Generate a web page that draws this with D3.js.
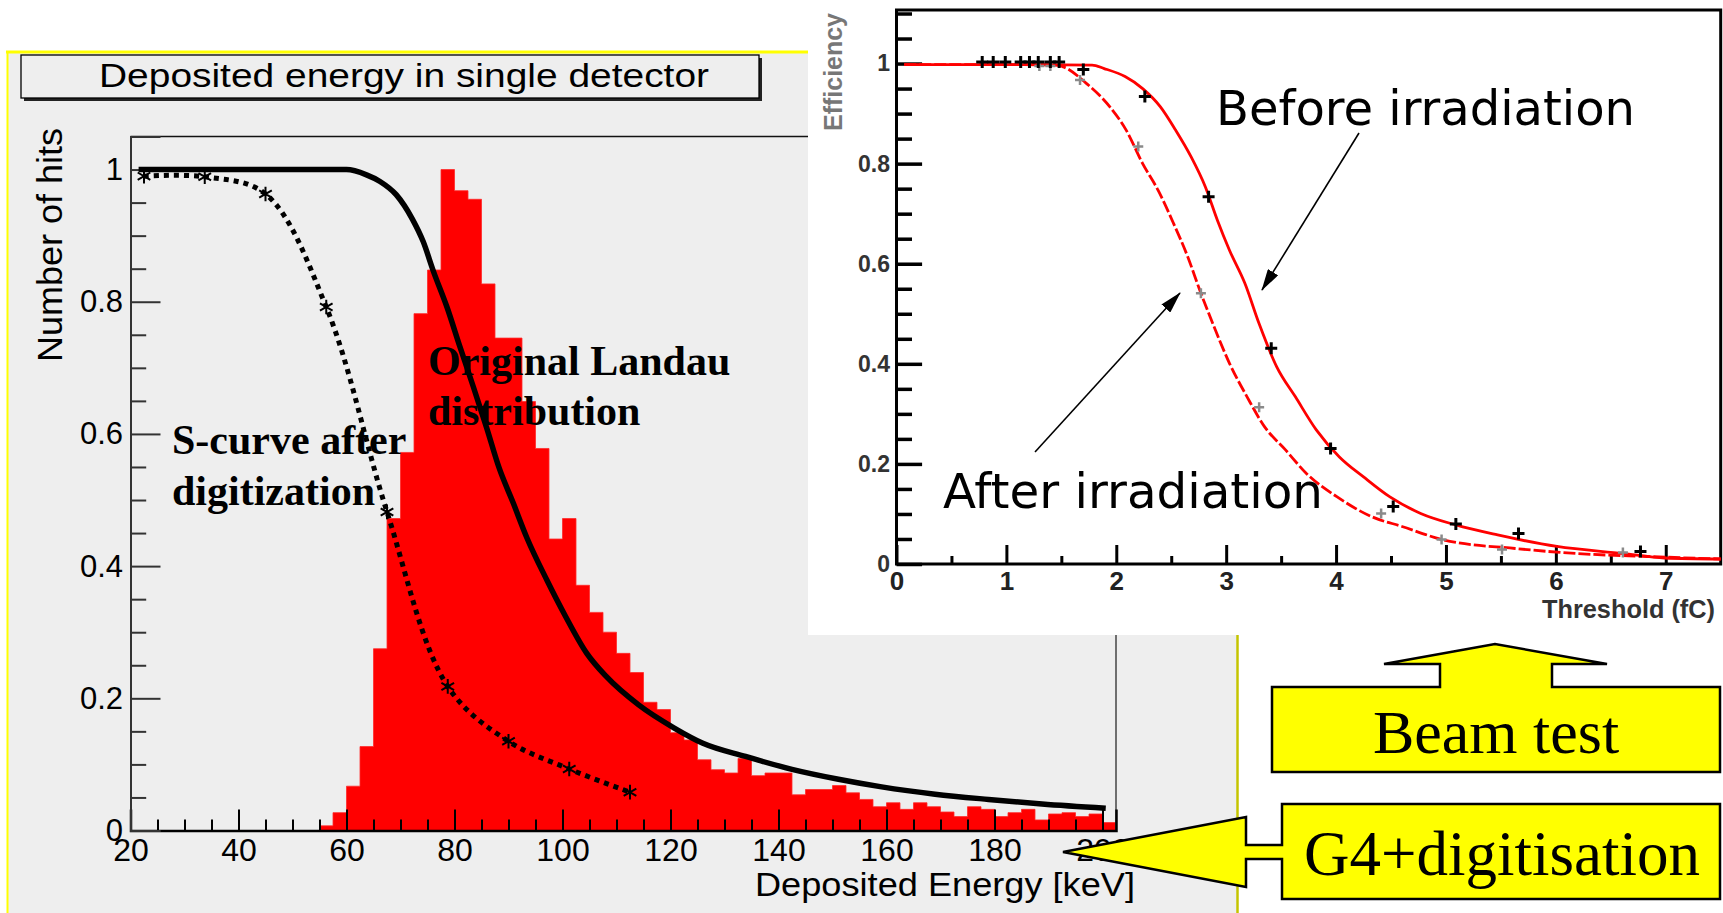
<!DOCTYPE html>
<html><head><meta charset="utf-8">
<script src="https://cdn.jsdelivr.net/npm/d3@7"></script>
<style>html,body{margin:0;padding:0;background:#fff;overflow:hidden}</style>
</head><body>
<svg id="c" width="1723" height="913" xmlns="http://www.w3.org/2000/svg"></svg>
<script>
// ---------------- DATA: main chart ----------------
const histStart = 55;
const binWidth = 2.5;
const histValues = [0.007,0.027,0.067,0.127,0.275,0.472,0.572,0.782,0.848,1.0,
  0.968,0.955,0.827,0.745,0.745,0.649,0.578,0.441,0.472,0.371,
  0.330,0.300,0.268,0.239,0.194,0.183,0.148,0.137,0.107,0.092,
  0.087,0.109,0.083,0.087,0.087,0.054,0.062,0.062,0.068,0.057,
  0.047,0.036,0.042,0.032,0.042,0.036,0.028,0.021,0.036,0.032,
  0.021,0.027,0.032,0.016,0.025,0.027,0.021,0.025,0.012];
const landauX = [21.5,40,60,63.7,66.2,69.2,72.2,74.2,76.1,78.6,81.0,83.5,86.0,88.2,90.9,93.4,97.1,100.5,104.5,108.1,114.1,120.7,126.0,133.9,142.5,151.1,159.1,169.0,178.9,188.8,200.6];
const landauY = [1.0,1.0,1.0,0.992,0.982,0.962,0.925,0.891,0.846,0.792,0.732,0.671,0.608,0.550,0.495,0.443,0.379,0.325,0.268,0.233,0.190,0.155,0.132,0.112,0.0925,0.0775,0.066,0.055,0.047,0.040,0.0336];
const sCurveX = [22.5,33.75,45,56.25,67.5,78.75,90,101.25,112.5];
const sCurveY = [0.99,0.989,0.963,0.792,0.482,0.218,0.135,0.093,0.058];
const xTickValues = [20,40,60,80,100,120,140,160,180,200];
const yTickValues = [0,0.2,0.4,0.6,0.8,1];
const yTickLabels = ["0","0.2","0.4","0.6","0.8","1"];

// ---------------- DATA: inset (beam test) ----------------
const beforeCurveX = [0.07,1.0,1.78,1.89,2.08,2.24,2.40,2.54,2.68,2.81,2.92,3.03,3.17,3.30,3.46,3.63,3.82,4.03,4.25,4.49,4.77,5.09,5.47,6.01,6.61,6.99,7.5];
const beforeCurveY = [0.998,0.998,0.997,0.99,0.974,0.950,0.914,0.867,0.814,0.754,0.687,0.627,0.561,0.480,0.394,0.334,0.268,0.214,0.174,0.134,0.101,0.078,0.058,0.035,0.021,0.012,0.010];
const afterCurveX = [0.07,1.0,1.45,1.51,1.73,1.94,2.09,2.24,2.38,2.52,2.65,2.76,2.89,3.03,3.19,3.35,3.54,3.73,4.01,4.33,4.60,4.98,5.63,6.18,6.83,7.5];
const afterCurveY = [0.998,0.998,0.997,0.994,0.960,0.914,0.867,0.800,0.747,0.681,0.614,0.547,0.474,0.401,0.334,0.274,0.228,0.181,0.134,0.094,0.075,0.048,0.031,0.021,0.015,0.010];
const beforePointsX = [0.78,0.88,0.99,1.13,1.21,1.29,1.40,1.48,1.70,2.26,2.84,3.41,3.95,4.52,5.09,5.66,6.77];
const beforePointsY = [1.003,1.003,1.003,1.003,1.003,1.003,1.003,1.003,0.988,0.934,0.734,0.431,0.231,0.115,0.080,0.061,0.025];
const afterPointsX = [1.30,1.40,1.67,2.20,2.77,3.30,4.41,4.96,5.51,6.61];
const afterPointsY = [0.995,0.995,0.967,0.834,0.541,0.313,0.101,0.049,0.029,0.023];
const insetXTicks = [0,1,2,3,4,5,6,7];
const insetYTicks = [0,0.2,0.4,0.6,0.8,1];
const insetYTickLabels = ["0","0.2","0.4","0.6","0.8","1"];

// ---------------- DRAW ----------------
const svg = d3.select("#c");
const SANS = "'Liberation Sans', Arial, sans-serif";
const SERIF = "'Liberation Serif', 'Times New Roman', serif";

// left panel background + borders
svg.append("rect").attr("x",8).attr("y",52).attr("width",1229).attr("height",870).attr("fill","#eeeeee");
svg.append("line").attr("x1",6).attr("x2",1239).attr("y1",52).attr("y2",52).attr("stroke","#ffff00").attr("stroke-width",3);
svg.append("line").attr("x1",7.5).attr("x2",7.5).attr("y1",52).attr("y2",913).attr("stroke","#ffff00").attr("stroke-width",2);
svg.append("line").attr("x1",1237.5).attr("x2",1237.5).attr("y1",52).attr("y2",913).attr("stroke","#c4c400").attr("stroke-width",2.5);

// title box
svg.append("rect").attr("x",24).attr("y",58).attr("width",738).attr("height",43).attr("fill","#222");
svg.append("rect").attr("x",21).attr("y",55).attr("width",738).attr("height",43).attr("fill","#eeeeee").attr("stroke","#000").attr("stroke-width",1.3);
svg.append("text").attr("x",99).attr("y",87).attr("font-family",SANS).attr("font-size",34)
  .attr("textLength",610).attr("lengthAdjust","spacingAndGlyphs").text("Deposited energy in single detector");

// scales
const x = d3.scaleLinear().domain([20,202.5]).range([130.5,1116]);
const y = d3.scaleLinear().domain([0,1.05]).range([830.5,136.5]);

// histogram as one step area (no seams between bins)
const histPts = histValues.map((v,i)=>[histStart+i*binWidth, v]);
histPts.push([histStart+histValues.length*binWidth, histValues[histValues.length-1]]);
svg.append("path").datum(histPts)
  .attr("d",d3.area().x(d=>x(d[0])).y0(y(0)).y1(d=>y(d[1])).curve(d3.curveStepAfter))
  .attr("fill","#ff0000").attr("stroke","#ff2a2a").attr("stroke-width",0.8);

// frame
svg.append("line").attr("x1",x(20)).attr("x2",x(202.5)).attr("y1",y(1.05)).attr("y2",y(1.05)).attr("stroke","#111").attr("stroke-width",1.5);
svg.append("line").attr("x1",x(202.5)).attr("x2",x(202.5)).attr("y1",y(1.05)).attr("y2",y(0)).attr("stroke","#444").attr("stroke-width",1.5);

// x axis
const gx = svg.append("g").attr("transform",`translate(0,${y(0)})`);
gx.call(d3.axisBottom(x).tickValues(xTickValues).tickSize(-21).tickFormat(d3.format("d")));
gx.select(".domain").attr("stroke","#000").attr("stroke-width",2.5);
gx.selectAll(".tick line").attr("stroke","#000").attr("stroke-width",2);
gx.selectAll(".tick text").attr("y",8).attr("dy","0.71em").attr("font-family",SANS).attr("font-size",32).attr("fill","#000");
const gxm = svg.append("g").attr("transform",`translate(0,${y(0)})`);
gxm.call(d3.axisBottom(x).tickValues(d3.range(20,203,5).filter(v=>v%20!==0)).tickSize(-11).tickFormat(""));
gxm.select(".domain").remove();
gxm.selectAll(".tick line").attr("stroke","#000").attr("stroke-width",2);

// y axis
const gy = svg.append("g").attr("transform",`translate(${x(20)},0)`);
gy.call(d3.axisLeft(y).tickValues(yTickValues).tickSize(-30).tickPadding(7.5).tickFormat((d,i)=>yTickLabels[i]));
gy.select(".domain").attr("stroke","#333").attr("stroke-width",2);
gy.selectAll(".tick line").attr("stroke","#333").attr("stroke-width",2);
gy.selectAll(".tick text").attr("font-family",SANS).attr("font-size",31).attr("fill","#000");
const gym = svg.append("g").attr("transform",`translate(${x(20)},0)`);
gym.call(d3.axisLeft(y).tickValues(d3.range(0,21).map(i=>i*0.05).filter((v,i)=>i%4!==0)).tickSize(-15.7).tickFormat(""));
gym.select(".domain").remove();
gym.selectAll(".tick line").attr("stroke","#333").attr("stroke-width",2);

// axis titles
svg.append("text").attr("transform","translate(62,128) rotate(-90)").attr("text-anchor","end")
  .attr("font-family",SANS).attr("font-size",35).attr("textLength",234).attr("lengthAdjust","spacingAndGlyphs").text("Number of hits");
svg.append("text").attr("x",1135).attr("y",896).attr("text-anchor","end")
  .attr("font-family",SANS).attr("font-size",33).attr("textLength",380).attr("lengthAdjust","spacingAndGlyphs").text("Deposited Energy [keV]");

// Landau curve
const landau = landauX.map((v,i)=>[v,landauY[i]]);
svg.append("path").datum(landau)
  .attr("d",d3.line().x(d=>x(d[0])).y(d=>y(d[1])).curve(d3.curveMonotoneX))
  .attr("fill","none").attr("stroke","#000").attr("stroke-width",5.5);

// S-curve (dotted) + stars
const sCurve = sCurveX.map((v,i)=>[v,sCurveY[i]]);
svg.append("path").datum(sCurve)
  .attr("d",d3.line().x(d=>x(d[0])).y(d=>y(d[1])).curve(d3.curveCatmullRom.alpha(0.5)))
  .attr("fill","none").attr("stroke","#000").attr("stroke-width",5).attr("stroke-dasharray","5,5");
svg.append("g").selectAll("path").data(sCurve).join("path")
  .attr("transform",d=>`translate(${x(d[0])},${y(d[1])})`)
  .attr("d",d3.symbol(d3.symbolAsterisk,150))
  .attr("fill","none").attr("stroke","#000").attr("stroke-width",2);

// annotations
const ann = svg.append("g").attr("font-family",SERIF).attr("font-weight","bold").attr("font-size",42).attr("fill","#000");
ann.append("text").attr("x",172).attr("y",454).text("S-curve after");
ann.append("text").attr("x",172).attr("y",505).text("digitization");
ann.append("text").attr("x",428).attr("y",375).text("Original Landau");
ann.append("text").attr("x",428).attr("y",425).text("distribution");

// ---------------- INSET ----------------
svg.append("rect").attr("x",808).attr("y",0).attr("width",915).attr("height",635).attr("fill","#fff");
const ix = d3.scaleLinear().domain([0,7.5]).range([896.5,1720.7]);
const iy = d3.scaleLinear().domain([0,1.107]).range([564,10]);

// inset axes
const igx = svg.append("g").attr("transform",`translate(0,${iy(0)})`);
igx.call(d3.axisBottom(ix).tickValues(insetXTicks).tickSize(-19).tickFormat(d3.format("d")));
igx.select(".domain").remove();
igx.selectAll(".tick line").attr("stroke","#000").attr("stroke-width",3);
igx.selectAll(".tick text").attr("y",26).attr("dy","0").attr("font-family",SANS).attr("font-weight","bold").attr("font-size",26).attr("fill","#222");
const igxm = svg.append("g").attr("transform",`translate(0,${iy(0)})`);
igxm.call(d3.axisBottom(ix).tickValues(d3.range(0,15).map(i=>i*0.5).filter((v,i)=>i%2===1)).tickSize(-8).tickFormat(""));
igxm.select(".domain").remove();
igxm.selectAll(".tick line").attr("stroke","#000").attr("stroke-width",3);

const igy = svg.append("g").attr("transform",`translate(${ix(0)},0)`);
igy.call(d3.axisLeft(iy).tickValues(insetYTicks).tickSize(-25.6).tickPadding(6.5).tickFormat((d,i)=>insetYTickLabels[i]));
igy.select(".domain").remove();
igy.selectAll(".tick line").attr("stroke","#000").attr("stroke-width",3.5);
igy.selectAll(".tick text").attr("font-family",SANS).attr("font-weight","bold").attr("font-size",23).attr("fill","#333");
const igym = svg.append("g").attr("transform",`translate(${ix(0)},0)`);
igym.call(d3.axisLeft(iy).tickValues(d3.range(0,23).map(i=>i*0.05).filter((v,i)=>i%4!==0)).tickSize(-15.5).tickFormat(""));
igym.select(".domain").remove();
igym.selectAll(".tick line").attr("stroke","#000").attr("stroke-width",3.5);

// inset frame
svg.append("rect").attr("x",ix(0)).attr("y",iy(1.107)).attr("width",ix(7.5)-ix(0)).attr("height",iy(0)-iy(1.107))
  .attr("fill","none").attr("stroke","#000").attr("stroke-width",3);

// inset curves
const iline = d3.line().x(d=>ix(d[0])).y(d=>iy(d[1])).curve(d3.curveMonotoneX);
svg.append("path").datum(afterCurveX.map((v,i)=>[v,afterCurveY[i]]))
  .attr("d",iline).attr("fill","none").attr("stroke","#ff0000").attr("stroke-width",2.8).attr("stroke-dasharray","12,3");
svg.append("path").datum(beforeCurveX.map((v,i)=>[v,beforeCurveY[i]]))
  .attr("d",iline).attr("fill","none").attr("stroke","#ff0000").attr("stroke-width",2.8);

// inset points
svg.append("g").selectAll("path").data(afterPointsX.map((v,i)=>[v,afterPointsY[i]])).join("path")
  .attr("transform",d=>`translate(${ix(d[0])},${iy(d[1])})`).attr("d","M-5,0H5M0,-5V5")
  .attr("stroke","#8a8a8a").attr("stroke-width",2.5);
svg.append("g").selectAll("path").data(beforePointsX.map((v,i)=>[v,beforePointsY[i]])).join("path")
  .attr("transform",d=>`translate(${ix(d[0])},${iy(d[1])})`).attr("d","M-6,0H6M0,-6V6")
  .attr("stroke","#000").attr("stroke-width",3);

// inset titles
svg.append("text").attr("x",1715).attr("y",618).attr("text-anchor","end").attr("font-family",SANS).attr("font-weight","bold")
  .attr("font-size",26).attr("fill","#333").attr("textLength",173).attr("lengthAdjust","spacingAndGlyphs").text("Threshold (fC)");
svg.append("text").attr("transform","translate(842,13) rotate(-90)").attr("text-anchor","end").attr("font-family",SANS)
  .attr("font-weight","bold").attr("font-size",26).attr("fill","#777").attr("textLength",118).attr("lengthAdjust","spacingAndGlyphs").text("Efficiency");

// inset annotations
const DV = "'DejaVu Sans', Verdana, sans-serif";
svg.append("text").attr("x",1216).attr("y",125).attr("font-family",DV).attr("font-size",48)
  .attr("textLength",419).attr("lengthAdjust","spacingAndGlyphs").text("Before irradiation");
svg.append("text").attr("x",943).attr("y",508).attr("font-family",DV).attr("font-size",48)
  .attr("textLength",380).attr("lengthAdjust","spacingAndGlyphs").text("After irradiation");

const defs = svg.append("defs");
defs.append("marker").attr("id","ah").attr("markerUnits","userSpaceOnUse")
  .attr("markerWidth",22).attr("markerHeight",12).attr("refX",21).attr("refY",6).attr("orient","auto")
  .append("path").attr("d","M0,0L22,6L0,12Z").attr("fill","#000");
svg.append("line").attr("x1",1359).attr("y1",133).attr("x2",1262).attr("y2",290)
  .attr("stroke","#000").attr("stroke-width",1.6).attr("marker-end","url(#ah)");
svg.append("line").attr("x1",1035).attr("y1",452).attr("x2",1180).attr("y2",293)
  .attr("stroke","#000").attr("stroke-width",1.6).attr("marker-end","url(#ah)");

// ---------------- CALLOUTS ----------------
const beamShape = [[1272,687],[1440,687],[1440,664],[1384,664],[1495,644],[1607,664],[1552,664],[1552,687],[1720,687],[1720,772],[1272,772]];
const g4Shape = [[1282,804],[1720,804],[1720,899],[1282,899],[1282,859],[1246,859],[1246,887],[1063,852],[1246,817],[1246,845],[1282,845]];
svg.append("polygon").attr("points",beamShape.map(p=>p.join(",")).join(" "))
  .attr("fill","#ffff00").attr("stroke","#000").attr("stroke-width",2.5);
svg.append("polygon").attr("points",g4Shape.map(p=>p.join(",")).join(" "))
  .attr("fill","#ffff00").attr("stroke","#000").attr("stroke-width",2.5);
svg.append("text").attr("x",1496).attr("y",753).attr("text-anchor","middle").attr("font-family",SERIF).attr("font-size",62).text("Beam test");
svg.append("text").attr("x",1502).attr("y",875).attr("text-anchor","middle").attr("font-family",SERIF).attr("font-size",63).text("G4+digitisation");
</script>
</body></html>
